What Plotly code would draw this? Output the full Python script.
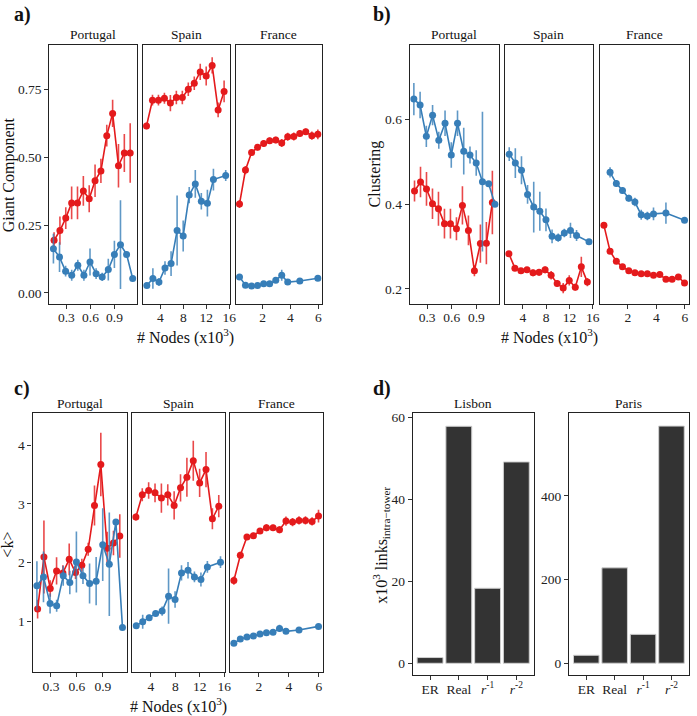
import plotly.graph_objects as go

RED = "#E41A1C"
BLUE = "#377EB8"
RED_E = "rgba(228,26,28,0.8)"
BLUE_E = "rgba(55,126,184,0.8)"
FONT = "Liberation Serif"

# ---------------- x positions (# nodes, x10^3) ----------------
PT_X_RED = [0.146, 0.219, 0.292, 0.365, 0.438, 0.511, 0.584, 0.657, 0.730, 0.803, 0.876, 0.949, 1.022, 1.095]
PT_X_BLUE = [0.138, 0.214, 0.290, 0.366, 0.442, 0.518, 0.594, 0.670, 0.746, 0.822, 0.898, 0.974, 1.050, 1.126]
ES_X_RED = [1.57, 2.61, 3.65, 4.69, 5.73, 6.77, 7.81, 8.85, 9.89, 10.93, 11.97, 13.01, 14.05, 15.09]
ES_X_BLUE = [1.63, 2.68, 3.74, 4.79, 5.85, 6.90, 7.96, 9.01, 10.07, 11.12, 12.18, 13.23, 15.37]
FR_X_RED = [0.33, 0.76, 1.20, 1.63, 2.07, 2.50, 2.94, 3.37, 3.80, 4.24, 4.67, 5.10, 5.54, 5.97]
FR_X_BLUE = [0.33, 0.76, 1.20, 1.63, 2.07, 2.50, 2.94, 3.37, 3.80, 4.67, 5.97]
FR_X_BLUE_CL = [0.76, 1.20, 1.63, 2.07, 2.50, 2.94, 3.37, 3.80, 4.67, 5.97]

# ---------------- a) Giant component ----------------
GC_PT_RED = [0.194, 0.230, 0.276, 0.332, 0.332, 0.376, 0.347, 0.414, 0.450, 0.580, 0.662, 0.469, 0.516, 0.516]
GC_PT_RED_ERR = [0.03, 0.052, 0.04, 0.06, 0.06, 0.055, 0.05, 0.06, 0.045, 0.04, 0.05, 0.08, 0.07, 0.11]
GC_PT_BLUE = [0.163, 0.132, 0.080, 0.065, 0.102, 0.065, 0.114, 0.071, 0.059, 0.086, 0.142, 0.178, 0.142, 0.053]
GC_PT_BLUE_ERR = [0.055, 0.055, 0.02, 0.02, 0.02, 0.02, 0.05, 0.02, 0.015, 0.04, 0.05, 0.164, 0.01, 0.01]
GC_ES_RED = [0.616, 0.711, 0.711, 0.718, 0.700, 0.721, 0.721, 0.751, 0.773, 0.815, 0.800, 0.839, 0.675, 0.743]
GC_ES_RED_ERR = [0.012, 0.02, 0.02, 0.02, 0.03, 0.025, 0.025, 0.025, 0.025, 0.03, 0.035, 0.03, 0.027, 0.04]
GC_ES_BLUE = [0.027, 0.053, 0.040, 0.092, 0.108, 0.230, 0.210, 0.361, 0.402, 0.338, 0.331, 0.418, 0.433]
GC_ES_BLUE_ERR = [0.01, 0.038, 0.015, 0.025, 0.046, 0.129, 0.057, 0.03, 0.051, 0.03, 0.049, 0.04, 0.02]
GC_FR_RED = [0.328, 0.453, 0.518, 0.537, 0.551, 0.561, 0.564, 0.553, 0.576, 0.577, 0.588, 0.594, 0.580, 0.585]
GC_FR_RED_ERR = [0.015, 0.015, 0.012, 0.012, 0.012, 0.012, 0.012, 0.015, 0.015, 0.015, 0.012, 0.012, 0.015, 0.018]
GC_FR_BLUE = [0.059, 0.028, 0.025, 0.027, 0.034, 0.034, 0.047, 0.065, 0.040, 0.044, 0.054]
GC_FR_BLUE_ERR = [0.01, 0.008, 0.006, 0.006, 0.008, 0.008, 0.01, 0.02, 0.01, 0.008, 0.008]

# ---------------- b) Clustering ----------------
CL_PT_BLUE = [0.648, 0.634, 0.560, 0.610, 0.551, 0.591, 0.516, 0.591, 0.525, 0.516, 0.497, 0.453, 0.448, 0.400]
CL_PT_BLUE_ERR = [0.038, 0.031, 0.025, 0.024, 0.02, 0.03, 0.03, 0.03, 0.055, 0.02, 0.03, 0.165, 0.005, 0.005]
CL_PT_RED = [0.431, 0.452, 0.436, 0.401, 0.389, 0.354, 0.354, 0.342, 0.397, 0.338, 0.243, 0.307, 0.308, 0.404]
CL_PT_RED_ERR = [0.025, 0.036, 0.04, 0.036, 0.04, 0.035, 0.035, 0.027, 0.045, 0.035, 0.013, 0.045, 0.05, 0.075]
CL_ES_BLUE = [0.518, 0.497, 0.480, 0.423, 0.393, 0.383, 0.363, 0.324, 0.321, 0.332, 0.338, 0.326, 0.311]
CL_ES_BLUE_ERR = [0.016, 0.035, 0.033, 0.022, 0.06, 0.046, 0.027, 0.016, 0.01, 0.01, 0.018, 0.013, 0.005]
CL_ES_RED = [0.283, 0.249, 0.243, 0.245, 0.238, 0.239, 0.245, 0.232, 0.213, 0.202, 0.220, 0.204, 0.252, 0.216]
CL_ES_RED_ERR = [0.006, 0.006, 0.006, 0.006, 0.008, 0.008, 0.008, 0.01, 0.008, 0.012, 0.012, 0.008, 0.024, 0.01]
CL_FR_BLUE = [0.475, 0.449, 0.432, 0.414, 0.405, 0.375, 0.372, 0.377, 0.379, 0.362]
CL_FR_BLUE_ERR = [0.012, 0.008, 0.008, 0.008, 0.01, 0.012, 0.01, 0.015, 0.025, 0.006]
CL_FR_RED = [0.350, 0.289, 0.265, 0.252, 0.243, 0.238, 0.236, 0.236, 0.232, 0.234, 0.223, 0.223, 0.228, 0.214]
CL_FR_RED_ERR = [0.006, 0.006, 0.005, 0.005, 0.005, 0.005, 0.005, 0.005, 0.005, 0.005, 0.005, 0.005, 0.005, 0.006]

# ---------------- c) <k> ----------------
K_PT_BLUE = [1.605, 1.757, 1.305, 1.266, 1.775, 1.661, 2.011, 1.775, 1.644, 1.684, 2.305, 1.972, 2.689, 0.898]
K_PT_BLUE_ERR = [0.42, 0.43, 0.17, 0.1, 0.17, 0.2, 0.52, 0.14, 0.34, 0.41, 0.62, 0.88, 0.05, 0.03]
K_PT_RED = [1.209, 2.096, 1.559, 1.859, 1.825, 2.056, 1.831, 1.955, 2.226, 2.972, 3.667, 2.243, 2.333, 2.452]
K_PT_RED_ERR = [0.16, 0.62, 0.14, 0.23, 0.13, 0.27, 0.11, 0.11, 0.11, 0.34, 0.54, 0.28, 0.21, 0.37]
K_ES_RED = [2.775, 3.153, 3.226, 3.186, 3.097, 3.153, 2.972, 3.271, 3.452, 3.734, 3.356, 3.582, 2.746, 2.960]
K_ES_RED_ERR = [0.06, 0.11, 0.14, 0.16, 0.25, 0.18, 0.24, 0.23, 0.33, 0.34, 0.24, 0.3, 0.18, 0.19]
K_ES_BLUE = [0.927, 0.995, 1.063, 1.136, 1.175, 1.429, 1.373, 1.825, 1.870, 1.757, 1.712, 1.927, 2.006]
K_ES_BLUE_ERR = [0.04, 0.12, 0.05, 0.05, 0.08, 0.47, 0.14, 0.13, 0.14, 0.09, 0.12, 0.1, 0.1]
K_FR_RED = [1.695, 2.124, 2.435, 2.458, 2.537, 2.593, 2.593, 2.559, 2.706, 2.689, 2.717, 2.717, 2.700, 2.791]
K_FR_RED_ERR = [0.07, 0.06, 0.05, 0.05, 0.05, 0.06, 0.05, 0.06, 0.08, 0.07, 0.07, 0.07, 0.07, 0.11]
K_FR_BLUE = [0.627, 0.701, 0.735, 0.752, 0.785, 0.808, 0.814, 0.881, 0.831, 0.853, 0.915]
K_FR_BLUE_ERR = [0.03, 0.03, 0.03, 0.03, 0.03, 0.03, 0.03, 0.06, 0.03, 0.03, 0.04]

# ---------------- d) intra-tower links ----------------
D_CATS = ["ER", "Real", "<i>r</i><sup>-1</sup>", "<i>r</i><sup>-2</sup>"]
LISBON = [1.4, 57.8, 18.3, 49.1]
PARIS = [19, 228, 69, 567]

COUNTRIES = ["Portugal", "Spain", "France"]
X_RANGES = {"Portugal": [0.089, 1.175], "Spain": [0.88, 16.06], "France": [0.05, 6.25]}
X_TICKS = {"Portugal": [0.3, 0.6, 0.9], "Spain": [4, 8, 12, 16], "France": [2, 4, 6]}
X_TICKTEXT = {"Portugal": ["0.3", "0.6", "0.9"], "Spain": ["4", "8", "12", "16"], "France": ["2", "4", "6"]}

W, H = 697, 716

def px(xp):
    return xp / W

def py(yp):
    return 1 - yp / H

fig = go.Figure()
layout = {}
axis_count = [0]

def new_axes(xdom, ydom, xrange, yrange, xtickvals, xticktext, ytickvals, yticktext, show_y):
    axis_count[0] += 1
    i = axis_count[0]
    xn = "xaxis" if i == 1 else f"xaxis{i}"
    yn = "yaxis" if i == 1 else f"yaxis{i}"
    xa = "x" if i == 1 else f"x{i}"
    ya = "y" if i == 1 else f"y{i}"
    common = dict(showline=True, mirror=True, linecolor="#222", linewidth=1.4,
                  showgrid=False, zeroline=False, ticks="outside", ticklen=4,
                  tickwidth=1.1, tickcolor="#333",
                  tickfont=dict(family=FONT, size=13.5, color="#222"))
    layout[xn] = dict(domain=[px(xdom[0]), px(xdom[1])], range=xrange, anchor=ya,
                      tickmode="array", tickvals=xtickvals, ticktext=xticktext,
                      ticklabelstandoff=-3, **common)
    yd = dict(domain=[py(ydom[1]), py(ydom[0])], range=yrange, anchor=xa, **common)
    if show_y:
        yd.update(tickmode="array", tickvals=ytickvals, ticktext=yticktext)
    else:
        yd.update(showticklabels=False, ticks="")
    layout[yn] = yd
    return xa, ya

def add_series(xa, ya, x, y, err, color, ecolor):
    fig.add_trace(go.Scatter(
        x=x, y=y, xaxis=xa, yaxis=ya, mode="lines+markers",
        line=dict(color=color, width=1.6),
        marker=dict(color=color, size=7),
        error_y=dict(type="data", array=err, visible=True, thickness=1.6, width=0, color=ecolor),
        showlegend=False, hoverinfo="skip"))

annotations = []

def text(x, y, t, size, bold=False, angle=0, xanchor="center", yanchor="middle"):
    if bold:
        t = f"<b>{t}</b>"
    annotations.append(dict(x=px(x), y=py(y), xref="paper", yref="paper", text=t,
                            showarrow=False, textangle=angle, xanchor=xanchor, yanchor=yanchor,
                            font=dict(family=FONT, size=size, color="#111")))

# panel a
A_X = {"Portugal": [50, 138], "Spain": [144, 232], "France": [238, 325]}
A_Y = [42, 302]
a_data = {
    "Portugal": [(PT_X_RED, GC_PT_RED, GC_PT_RED_ERR, RED), (PT_X_BLUE, GC_PT_BLUE, GC_PT_BLUE_ERR, BLUE)],
    "Spain": [(ES_X_RED, GC_ES_RED, GC_ES_RED_ERR, RED), (ES_X_BLUE, GC_ES_BLUE, GC_ES_BLUE_ERR, BLUE)],
    "France": [(FR_X_RED, GC_FR_RED, GC_FR_RED_ERR, RED), (FR_X_BLUE, GC_FR_BLUE, GC_FR_BLUE_ERR, BLUE)],
}
for c in COUNTRIES:
    xa, ya = new_axes(A_X[c], A_Y, X_RANGES[c], [-0.040, 0.915], X_TICKS[c], X_TICKTEXT[c],
                      [0, 0.25, 0.5, 0.75], ["0.00", "0.25", "0.50", "0.75"], c == "Portugal")
    for (x, y, e, col) in a_data[c]:
        add_series(xa, ya, x, y, e, col, RED_E if col == RED else BLUE_E)
    text(sum(A_X[c]) / 2, 32, c, 13.5)

# panel b
B_X = {"Portugal": [414, 504], "Spain": [510, 599], "France": [606, 695.5]}
b_data = {
    "Portugal": [(PT_X_RED, CL_PT_RED, CL_PT_RED_ERR, RED), (PT_X_BLUE, CL_PT_BLUE, CL_PT_BLUE_ERR, BLUE)],
    "Spain": [(ES_X_RED, CL_ES_RED, CL_ES_RED_ERR, RED), (ES_X_BLUE, CL_ES_BLUE, CL_ES_BLUE_ERR, BLUE)],
    "France": [(FR_X_RED, CL_FR_RED, CL_FR_RED_ERR, RED), (FR_X_BLUE_CL, CL_FR_BLUE, CL_FR_BLUE_ERR, BLUE)],
}
for c in COUNTRIES:
    xa, ya = new_axes(B_X[c], A_Y, X_RANGES[c], [0.165, 0.776], X_TICKS[c], X_TICKTEXT[c],
                      [0.2, 0.4, 0.6], ["0.2", "0.4", "0.6"], c == "Portugal")
    for (x, y, e, col) in b_data[c]:
        add_series(xa, ya, x, y, e, col, RED_E if col == RED else BLUE_E)
    text(sum(B_X[c]) / 2, 32, c, 13.5)

# panel c
C_X = {"Portugal": [33, 128], "Spain": [133, 227], "France": [232, 326]}
C_Y = [412, 672]
c_data = {
    "Portugal": [(PT_X_RED, K_PT_RED, K_PT_RED_ERR, RED), (PT_X_BLUE, K_PT_BLUE, K_PT_BLUE_ERR, BLUE)],
    "Spain": [(ES_X_RED, K_ES_RED, K_ES_RED_ERR, RED), (ES_X_BLUE, K_ES_BLUE, K_ES_BLUE_ERR, BLUE)],
    "France": [(FR_X_RED, K_FR_RED, K_FR_RED_ERR, RED), (FR_X_BLUE, K_FR_BLUE, K_FR_BLUE_ERR, BLUE)],
}
for c in COUNTRIES:
    xa, ya = new_axes(C_X[c], C_Y, X_RANGES[c], [0.136, 4.54], X_TICKS[c], X_TICKTEXT[c],
                      [1, 2, 3, 4], ["1", "2", "3", "4"], c == "Portugal")
    for (x, y, e, col) in c_data[c]:
        add_series(xa, ya, x, y, e, col, RED_E if col == RED else BLUE_E)
    text(sum(C_X[c]) / 2, 402, c, 13.5)

# panel d
D_Y = [412, 675]
for name, xd, vals, yr, yt in [("Lisbon", [417, 539], LISBON, [-2.9, 60.97], [0, 20, 40, 60]),
                               ("Paris", [575, 695.5], PARIS, [-28.6, 597.6], [0, 200, 400])]:
    xa, ya = new_axes(xd, D_Y, [-0.6, 3.6], yr, [0, 1, 2, 3], D_CATS, yt, [str(v) for v in yt], True)
    fig.add_trace(go.Bar(x=[0, 1, 2, 3], y=vals, xaxis=xa, yaxis=ya, width=0.9,
                         marker=dict(color="#333333", line=dict(color="#d0d0d0", width=1)),
                         showlegend=False, hoverinfo="skip"))
    text(sum(xd) / 2, 402, name, 13.5)

# panel labels
text(12, 12, "a)", 20, bold=True, xanchor="left")
text(375, 12, "b)", 20, bold=True, xanchor="left")
text(12, 387, "c)", 20, bold=True, xanchor="left")
text(375, 387, "d)", 20, bold=True, xanchor="left")

# axis titles
text(9, 172, "Giant Component", 16, angle=-90)
text(379, 172, "Clustering", 16, angle=-90)
text(8, 544, "&lt;k&gt;", 16, angle=-90)
text(385, 545, "x10<sup>3</sup> links<sub>intra\u2212tower</sub>", 16, angle=-90)
text(187, 335, "# Nodes (x10<sup>3</sup>)", 16)
text(555, 335, "# Nodes (x10<sup>3</sup>)", 16)
text(180, 705, "# Nodes (x10<sup>3</sup>)", 16)

fig.update_layout(width=W, height=H, autosize=False,
                  margin=dict(l=0, r=0, t=0, b=0),
                  paper_bgcolor="white", plot_bgcolor="white",
                  font=dict(family=FONT, color="#222"),
                  annotations=annotations, showlegend=False, **layout)

fig.write_html("out.html", config={"displayModeBar": False},
               post_script="document.body.style.margin='0';document.body.style.overflow='hidden';")
